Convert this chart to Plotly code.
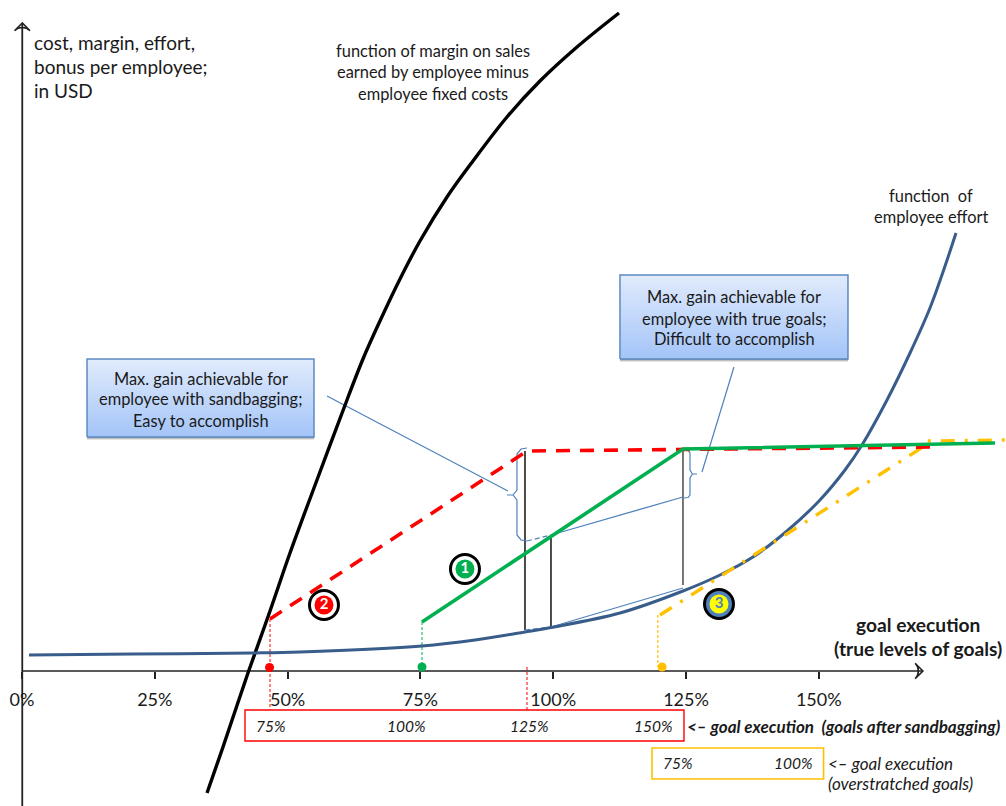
import plotly.graph_objects as go

# Goal execution in percent of the true goal level, amounts in USD per employee.
tick_values = [0, 25, 50, 75, 100, 125, 150]
tick_labels = ["0%", "25%", "50%", "75%", "100%", "125%", "150%"]

margin_x = [34.83, 37.84, 42.54, 46.69, 50.45, 55.53, 61.18, 64.19, 67.39, 71.16, 74.92,
            80.01, 84.90, 91.30, 97.51, 104.48, 112.39]
margin_y = [-122, -76, -2, 60, 118, 191, 271, 312, 350, 392, 430, 474, 510, 554, 590, 624, 658]

effort_x = [1.32, 20.9, 43.49, 52.33, 75.3, 85.28, 94.69, 99.58, 112.57, 124.43, 131.4,
            137.6, 144.01, 150.22, 154.93, 158.13, 162.84, 167.17, 170.93, 173.38, 175.83]
effort_y = [16, 17, 18, 19, 25, 31, 39, 43.5, 58, 80, 96, 114, 140, 171, 201, 226, 271,
            318, 363, 399, 438]

true_bonus_x = [75.3, 124.43, 183.17]
true_bonus_y = [49, 222, 228]
sandbag_bonus_x = [46.69, 95.07, 170.93]
sandbag_bonus_y = [52, 220, 224]
stretch_bonus_x = [120.1, 169.6, 170.4, 185.2]
stretch_bonus_y = [56, 224, 230, 231]

# Bonus entry points on the execution axis
entry_x = [46.6, 75.3, 120.5]
entry_y = [3.5, 4, 4]
entry_colors = ["#ff0000", "#00b050", "#ffc000"]

# Gain brackets
left_brace_x = [95.07, 93.94, 93.18, 93.18, 92.43, 91.3, 92.43, 93.18, 93.18, 93.94, 95.07]
left_brace_y = [223, 222, 217, 181, 176, 176, 176, 171, 136, 131, 130]
right_brace_x = [124.6, 125.4, 125.75, 125.75, 126.2, 127.07, 126.2, 125.75, 125.75, 125.4, 124.6]
right_brace_y = [221, 220.5, 218, 201, 197, 197, 197, 193, 176, 173.5, 173]

axis_x_span = [0, 169.6]
axis_x_level = [0, 0]
axis_y_pos = [0.05, 0.05]
axis_y_span = [-135, 648]

X0, X1, Y0, Y1 = -4.14, 185.24, -135, 671
W, H = 1006, 806
FONT = "Lato"
INK = "#222222"
BLUE = "#4f81bd"
DEEP_BLUE = "#385d8a"


def line(x, y, color, width, dash="solid", shape="linear"):
    return go.Scatter(x=x, y=y, mode="lines", hoverinfo="skip",
                      line=dict(color=color, width=width, dash=dash, shape=shape))


def callout(x0, x1, y0, y1):
    traces = []
    for offset, alpha in ((3, 0.10), (2, 0.16), (1, 0.2)):
        traces.append(go.Scatter(x=[x0, x1, x1, x0, x0],
                                 y=[y0 - offset] * 2 + [y1 - offset] * 2 + [y0 - offset],
                                 mode="lines", fill="toself", hoverinfo="skip",
                                 fillcolor=f"rgba(0,0,0,{alpha})", line=dict(width=0)))
    traces.append(go.Scatter(x=[x0, x1, x1, x0, x0], y=[y0, y0, y1, y1, y0],
                             mode="lines", fill="toself", hoverinfo="skip",
                             line=dict(color="#5c8ac4", width=1.5),
                             fillgradient=dict(type="vertical",
                                               colorscale=[[0, "#a3c4f8"], [1, "#e1ebfc"]])))
    return traces


fig = go.Figure()

for trace in callout(12.24, 54.97, 234, 312) + callout(112.57, 155.49, 312, 396):
    fig.add_trace(trace)

# Axes
fig.add_trace(line(axis_x_span, axis_x_level, INK, 1.6))
fig.add_trace(line(axis_y_pos, axis_y_span, INK, 1.8))
fig.add_trace(go.Scatter(x=[axis_x_span[1]], y=[0], mode="markers", hoverinfo="skip",
                         marker=dict(symbol="arrow-wide-open", angle=90, size=11, color=INK,
                                     line=dict(color=INK, width=1.6))))
fig.add_trace(go.Scatter(x=[axis_y_pos[0]], y=[axis_y_span[1]], mode="markers", hoverinfo="skip",
                         marker=dict(symbol="arrow-wide-open", angle=0, size=11, color=INK,
                                     line=dict(color=INK, width=1.6))))

# Drop lines from the bonus starts to the axis and the sandbagging scale
fig.add_trace(line([46.69, 46.69], [52, -39], "#ff0000", 1, "3px,2px"))
fig.add_trace(line([95.07, 95.07], [4, -39], "#ff0000", 1, "3px,2px"))
fig.add_trace(line([75.3, 75.3], [49, 4], "#00b050", 1, "3px,2px"))
fig.add_trace(line([119.7, 119.7], [56, 4], "#ffc000", 1.2, "3px,2px"))

# Gain construction: verticals, connectors, brackets and callout leaders
fig.add_trace(line([94.69, 94.69], [220, 41], "#111111", 1.5))
fig.add_trace(line([99.58, 99.58], [136, 44], "#111111", 1.5))
fig.add_trace(line([124.43, 124.43], [222, 86], "#555555", 1.6))
fig.add_trace(line([95.07, 99.58], [130, 136], BLUE, 1.2, "5px,3px"))
fig.add_trace(line([99.58, 124.43], [136, 174], BLUE, 1.3))
fig.add_trace(line([94.69, 99.58], [41, 44], BLUE, 1.2, "5px,3px"))
fig.add_trace(line([99.58, 124.43], [44, 83], BLUE, 1.3))
fig.add_trace(line(left_brace_x, left_brace_y, BLUE, 1.2))
fig.add_trace(line(right_brace_x, right_brace_y, BLUE, 1.2))
fig.add_trace(line([57.42, 91.49], [275, 180], BLUE, 1.2))
fig.add_trace(line([134.03, 128.01], [304, 199], BLUE, 1.2))

# Main functions
fig.add_trace(line(margin_x, margin_y, "#000000", 3.4, shape="spline"))
fig.add_trace(line(effort_x, effort_y, DEEP_BLUE, 3, shape="spline"))
fig.add_trace(line(stretch_bonus_x, stretch_bonus_y, "#ffc000", 3.4, "14px,10px,3px,10px"))
fig.add_trace(line(sandbag_bonus_x, sandbag_bonus_y, "#ff0000", 3.6, "14px,10px"))
fig.add_trace(line(true_bonus_x, true_bonus_y, "#00b050", 3.6))

fig.add_trace(go.Scatter(x=entry_x, y=entry_y, mode="markers", hoverinfo="skip",
                         marker=dict(size=9, color=entry_colors)))

# Numbered scenario badges
badge_x = [83.39, 56.85, 131.21]
badge_y = [102, 66, 67]
badge_fill = ["#ffffff", "#ffffff", BLUE]
badge_inner = ["#00b050", "#ff0000", "#ffff00"]
badge_digit = ["1", "2", "3"]
badge_digit_color = ["#ffffff", "#ffffff", BLUE]
fig.add_trace(go.Scatter(x=badge_x, y=badge_y, mode="markers", hoverinfo="skip",
                         marker=dict(size=29, color=badge_fill, line=dict(color="#000000", width=3))))
fig.add_trace(go.Scatter(x=badge_x, y=badge_y, mode="markers+text", hoverinfo="skip",
                         text=[f"<b>{d}</b>" for d in badge_digit], textposition="middle center",
                         textfont=dict(family=FONT, size=15, color=badge_digit_color),
                         marker=dict(size=19, color=badge_inner)))

fig.add_shape(type="rect", x0=41.98, x1=124.62, y0=-70, y1=-39, line=dict(color="#ff0000", width=1.4))
fig.add_shape(type="rect", x0=118.6, x1=150.9, y0=-108, y1=-77, line=dict(color="#ffc000", width=1.6))

# (left px, centre py, text, anchor, size)
labels = [
    (33, 42, "cost, margin, effort,", "left", 19),
    (33, 66, "bonus per employee;", "left", 19),
    (33, 90, "in USD", "left", 19),
    (433, 51, "function of margin on sales", "center", 16.4),
    (433, 72, "earned by employee minus", "center", 16.4),
    (433, 93, "employee fixed costs", "center", 16.4),
    (931, 196, "function  of", "center", 16.4),
    (931, 217, "employee effort", "center", 16.4),
    (200.5, 378, "Max. gain achievable for", "center", 16.4),
    (200.5, 399, "employee with sandbagging;", "center", 16.4),
    (200.5, 420, "Easy to accomplish", "center", 16.4),
    (734, 296.5, "Max. gain achievable for", "center", 16.4),
    (734, 318, "employee with true goals;", "center", 16.4),
    (734, 339, "Difficult to accomplish", "center", 16.4),
    (918, 624, "<b>goal execution</b>", "center", 19.2),
    (918, 648, "<b>(true levels of goals)</b>", "center", 19.2),
    (271, 726, "<i>75%</i>", "center", 15.5),
    (406, 726, "<i>100%</i>", "center", 15.5),
    (529.5, 726, "<i>125%</i>", "center", 15.5),
    (653, 726, "<i>150%</i>", "center", 15.5),
    (678, 763, "<i>75%</i>", "center", 15.5),
    (793, 763, "<i>100%</i>", "center", 15.5),
    (686, 726, "<b><i>&lt;– goal execution  (goals after sandbagging)</i></b>", "left", 17),
    (827, 763, "<i>&lt;– goal execution</i>", "left", 17),
    (827, 783, "<i>(overstratched goals)</i>", "left", 17),
]
for px, py, text, anchor, size in labels:
    fig.add_annotation(x=px / W, y=1 - py / H, xref="paper", yref="paper", text=text,
                       showarrow=False, xanchor=anchor, yanchor="middle", align=anchor,
                       borderpad=0, font=dict(family=FONT, size=size, color="#1a1a1a"))

fig.update_layout(
    width=W, height=H, showlegend=False,
    margin=dict(l=0, r=0, t=0, b=0),
    paper_bgcolor="#ffffff", plot_bgcolor="#ffffff",
    xaxis=dict(range=[X0, X1], anchor="free", position=-Y0 / (Y1 - Y0), showgrid=False,
               zeroline=False, showline=False, ticks="outside", ticklen=7, tickwidth=1.5,
               tickcolor=INK, tickvals=tick_values, ticktext=tick_labels, ticklabelstandoff=5,
               tickfont=dict(family=FONT, size=18, color="#1a1a1a")),
    yaxis=dict(range=[Y0, Y1], visible=False, showgrid=False, zeroline=False),
)

fig.write_html("out.html")
